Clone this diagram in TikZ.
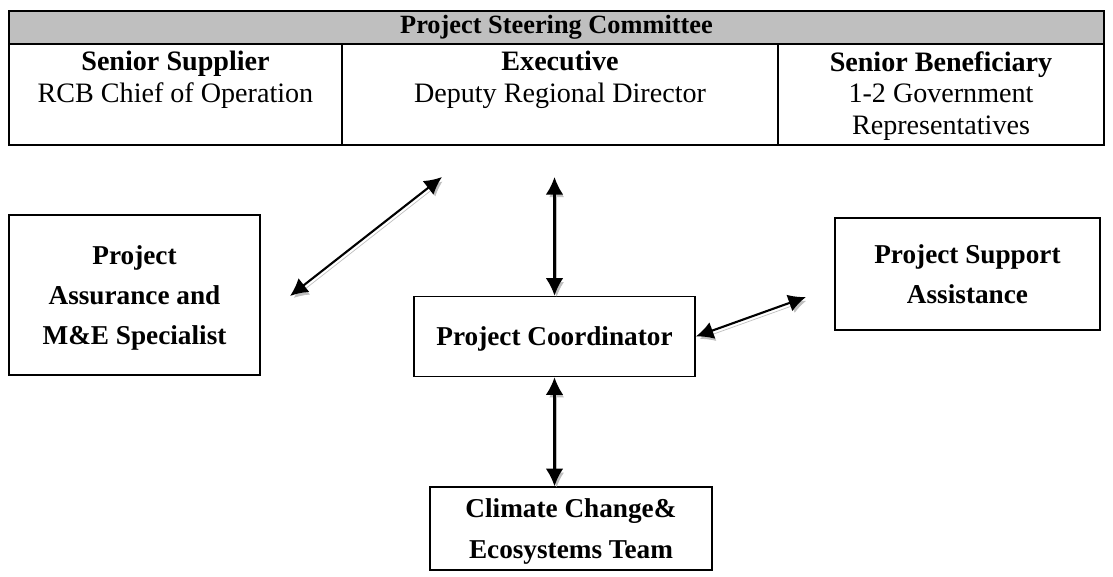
\documentclass[tikz,border=0pt]{standalone}
\usepackage{fontspec}
\setmainfont{Liberation Serif}
\usepackage{tikz}
\usetikzlibrary{arrows.meta,positioning}

\begin{document}
\begin{tikzpicture}[x=0.02cm, y=-0.02cm,
  cell/.style = {draw, line width=1.1pt, minimum height=2.02cm, inner sep=0pt},
  celltext/.style = {anchor=north, align=center, font=\fontsize{16}{18.2}\selectfont},
  box/.style = {draw, line width=0.9pt, align=center, inner sep=0pt, text depth=0pt,
    font=\fontsize{15.5}{23}\selectfont\bfseries},
  link/.style = {{Latex[length=10pt,width=10pt]}-{Latex[length=10pt,width=10pt]}, line width=1.2pt,
    preaction = {draw=black!25, transform canvas={shift={(1.2pt,-1.8pt)}}}}]
\useasboundingbox (0,0) rectangle (1113,576);
% steering committee table
\node[cell, minimum width=6.66cm] (supplier) at (175.5,94.5) {};
\node[cell, minimum width=8.72cm] (executive) at (560,94.5) {};
\node[cell, minimum width=6.52cm] (beneficiary) at (941,94.5) {};
\node[draw, line width=1.1pt, fill=black!25, minimum width=21.9cm, minimum height=0.66cm, inner sep=0pt,
  font=\fontsize{15}{18}\selectfont\bfseries] (psc) at (556.5,27.5) {Project Steering Committee};
\node[celltext] (suppliertext) at (175.5,45) {\textbf{Senior Supplier}\\RCB Chief of Operation};
\node[celltext] (executivetext) at (560,45) {\textbf{Executive}\\Deputy Regional Director};
\node[celltext] (beneficiarytext) at (941,45) {\textbf{Senior Beneficiary}\\1-2 Government\\Representatives};
% boxes
\node[box, minimum width=5.02cm, minimum height=3.2cm] (assurance) at (134.5,295) {Project\\Assurance and\\M\&E Specialist};
\node[box, minimum width=5.62cm, minimum height=1.6cm] (coordinator) at (554.5,336.5) {Project Coordinator};
\node[box, minimum width=5.3cm, minimum height=2.24cm] (support) at (967.5,274) {Project Support\\Assistance};
\node[box, minimum width=5.64cm, minimum height=1.66cm] (team) at (571,528.5) {Climate Change\&\\Ecosystems Team};
% connectors
\coordinate (assuretip) at (290,296);
\coordinate (psctip) at (442,177);
\coordinate (exectip) at (554.5,177);
\coordinate (supporttip) at (806,297);
\draw[link] (assuretip) -- (psctip);
\draw[link] (exectip) -- (coordinator.north);
\draw[link] (coordinator.east) -- (supporttip);
\draw[link] (coordinator.south) -- (coordinator.south |- team.north);
\end{tikzpicture}
\end{document}
